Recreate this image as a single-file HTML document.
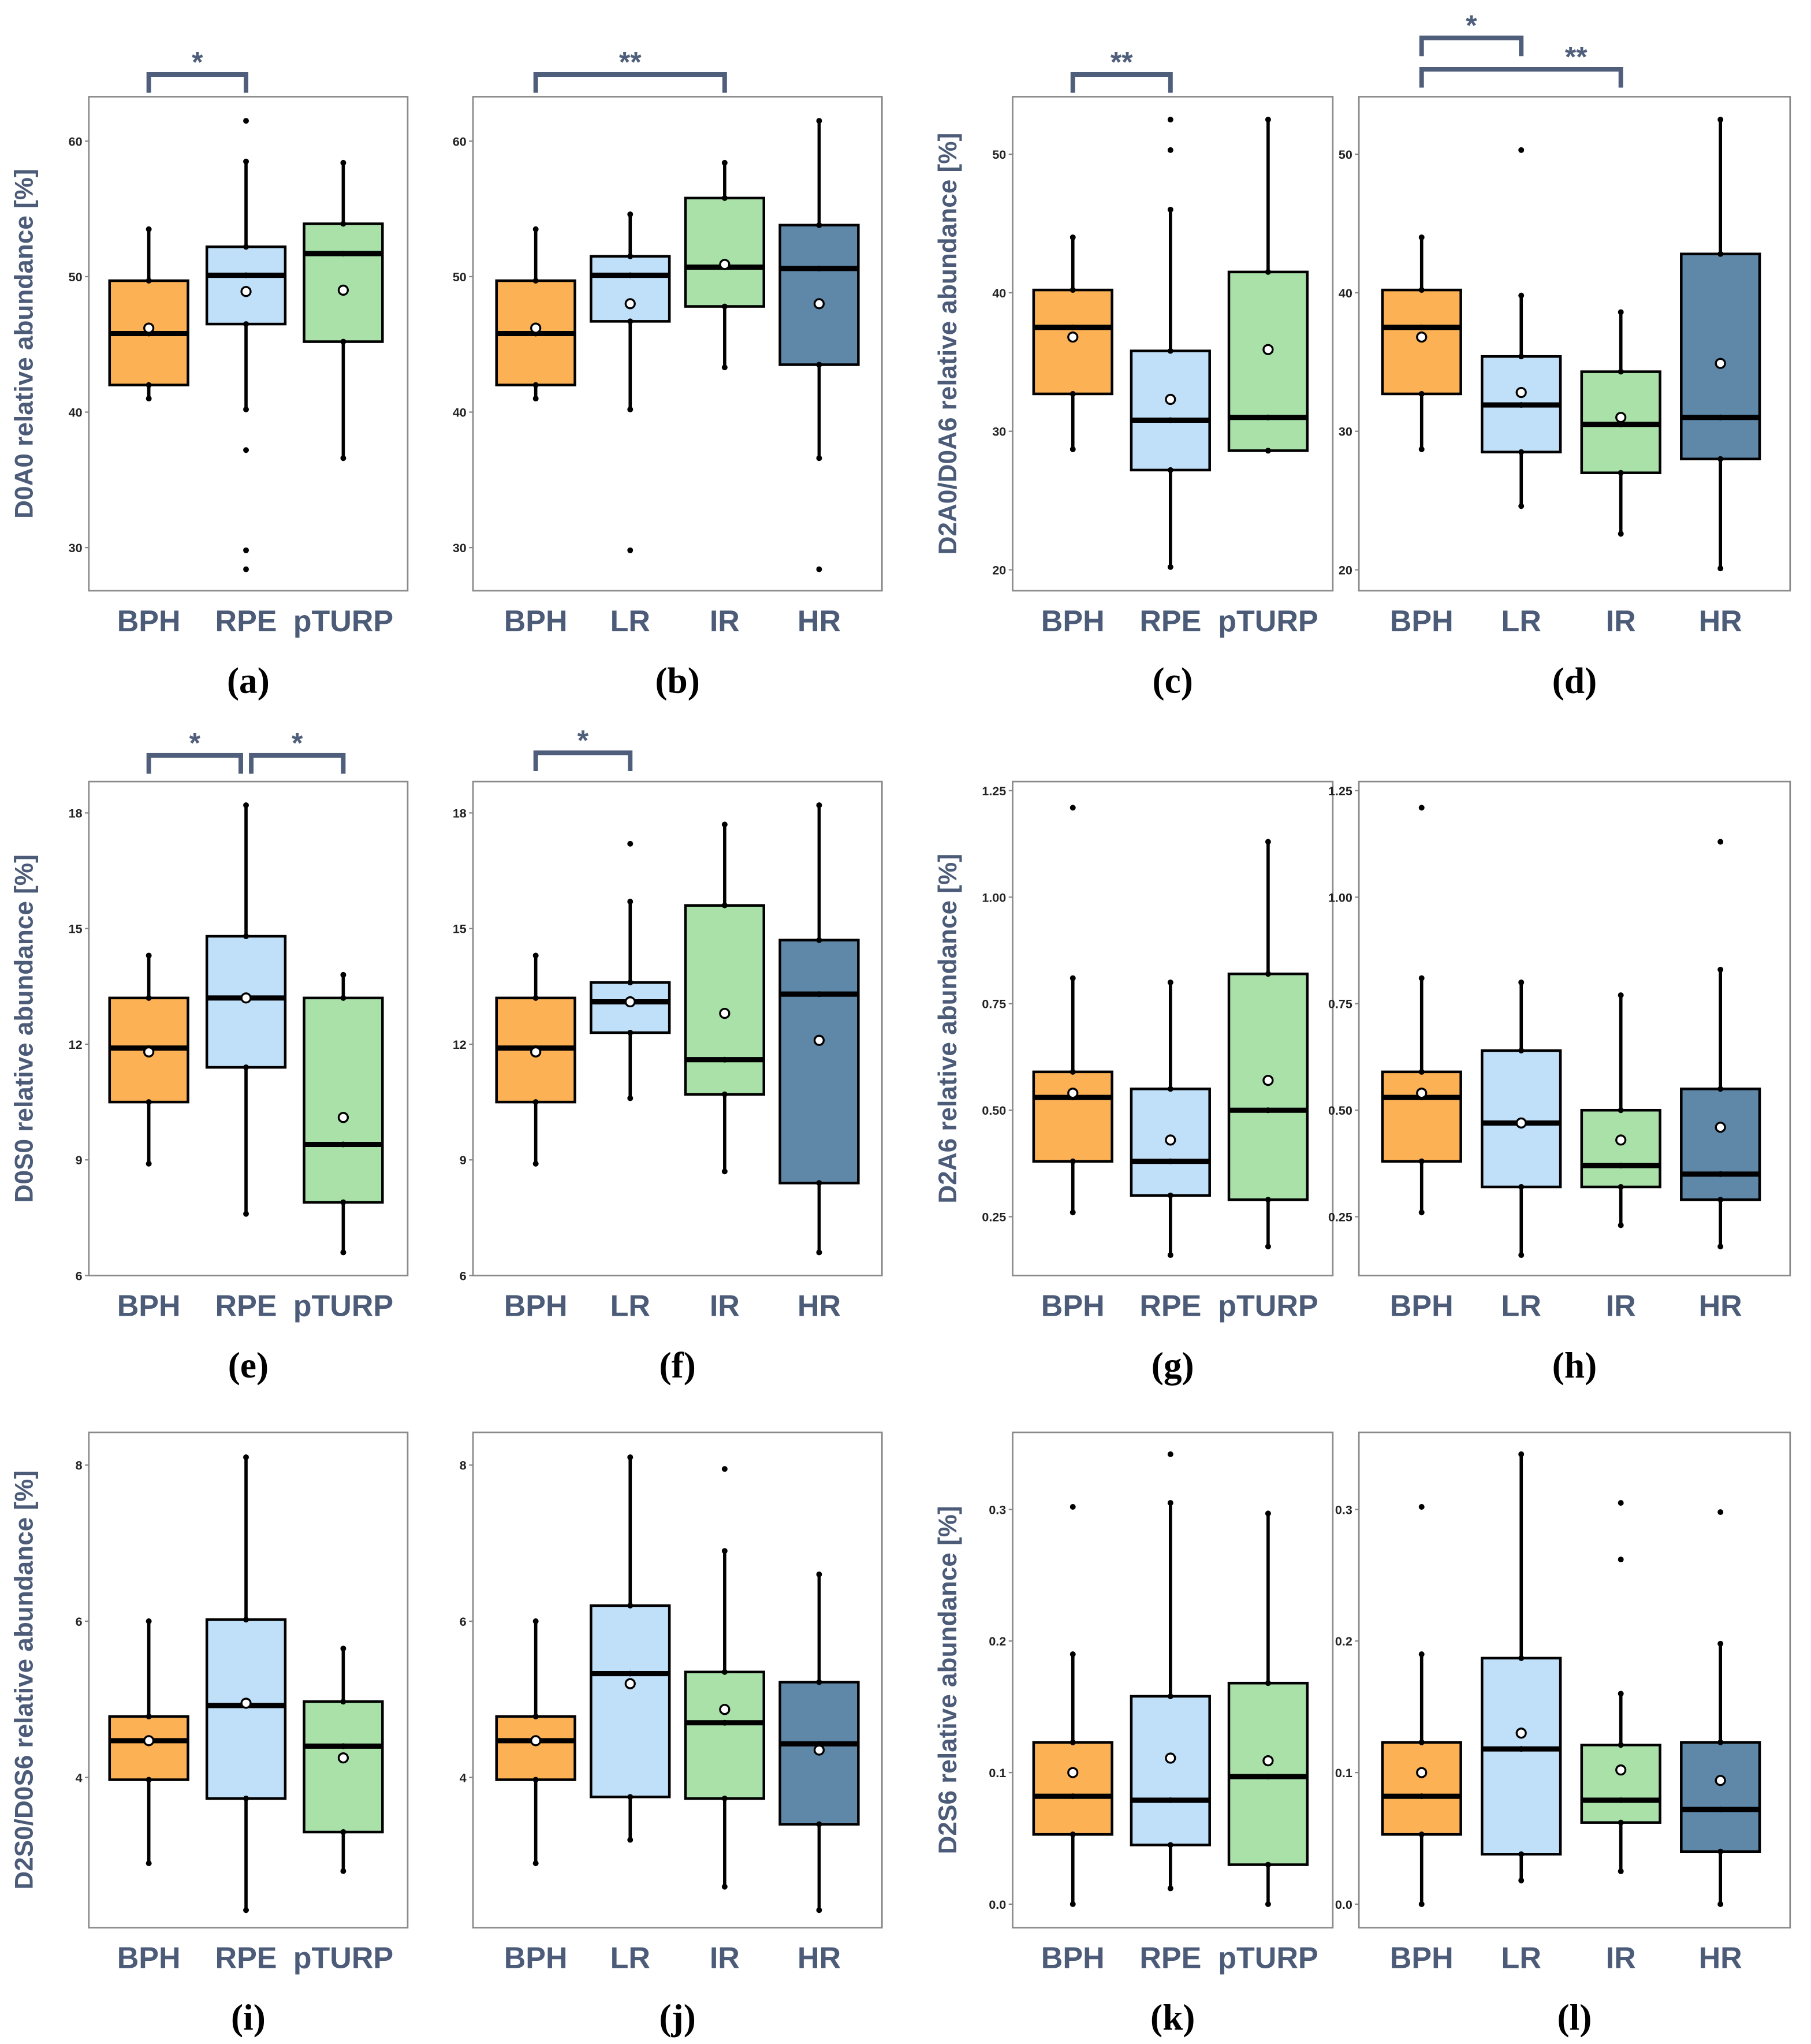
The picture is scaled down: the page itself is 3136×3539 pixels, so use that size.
<!DOCTYPE html>
<html><head><meta charset="utf-8"><style>
html,body{margin:0;padding:0;background:#fff;}
svg{display:block;}
</style></head><body>
<svg id="chart" width="3136" height="3539" viewBox="0 0 1386 1564" preserveAspectRatio="none" xmlns="http://www.w3.org/2000/svg"></svg>
<script>
// ---- data ----
const cats3 = ["BPH","RPE","pTURP"];
const cats4 = ["BPH","LR","IR","HR"];
// box rows: [lowWhisker, q1, median, q3, highWhisker]
const box_a = [[41,42,45.8,49.7,53.5],[40.2,46.5,50.1,52.2,58.5],[36.6,45.2,51.7,53.9,58.4]];
const mean_a = [46.2,48.9,49];
const out_a = [[],[61.5,37.2,29.8,28.4],[]];
const box_b = [[41,42,45.8,49.7,53.5],[40.2,46.7,50.1,51.5,54.6],[43.3,47.8,50.7,55.8,58.4],[36.6,43.5,50.6,53.8,61.5]];
const mean_b = [46.2,48,50.9,48];
const out_b = [[],[29.8],[],[28.4]];
const box_c = [[28.7,32.7,37.5,40.2,44],[20.2,27.2,30.8,35.8,46],[28.6,28.6,31,41.5,52.5]];
const mean_c = [36.8,32.3,35.9];
const out_c = [[],[50.3,52.5],[]];
const box_d = [[28.7,32.7,37.5,40.2,44],[24.6,28.5,31.9,35.4,39.8],[22.6,27,30.5,34.3,38.6],[20.1,28,31,42.8,52.5]];
const mean_d = [36.8,32.8,31,34.9];
const out_d = [[],[50.3],[],[]];
const box_e = [[8.9,10.5,11.9,13.2,14.3],[7.6,11.4,13.2,14.8,18.2],[6.6,7.9,9.4,13.2,13.8]];
const mean_e = [11.8,13.2,10.1];
const out_e = [[],[],[]];
const box_f = [[8.9,10.5,11.9,13.2,14.3],[10.6,12.3,13.1,13.6,15.7],[8.7,10.7,11.6,15.6,17.7],[6.6,8.4,13.3,14.7,18.2]];
const mean_f = [11.8,13.1,12.8,12.1];
const out_f = [[],[17.2],[],[]];
const box_g = [[0.26,0.38,0.53,0.59,0.81],[0.16,0.30,0.38,0.55,0.80],[0.18,0.29,0.50,0.82,1.13]];
const mean_g = [0.54,0.43,0.57];
const out_g = [[1.21],[],[]];
const box_h = [[0.26,0.38,0.53,0.59,0.81],[0.16,0.32,0.47,0.64,0.80],[0.23,0.32,0.37,0.50,0.77],[0.18,0.29,0.35,0.55,0.83]];
const mean_h = [0.54,0.47,0.43,0.46];
const out_h = [[1.21],[],[],[1.13]];
const box_i = [[2.9,3.97,4.47,4.78,6],[2.3,3.73,4.92,6.02,8.1],[2.8,3.3,4.4,4.97,5.65]];
const mean_i = [4.47,4.95,4.25];
const out_i = [[],[],[]];
const box_j = [[2.9,3.97,4.47,4.78,6],[3.2,3.75,5.33,6.2,8.1],[2.6,3.73,4.7,5.35,6.9],[2.3,3.4,4.43,5.22,6.6]];
const mean_j = [4.47,5.2,4.87,4.35];
const out_j = [[],[],[7.95],[]];
const box_k = [[0,0.053,0.082,0.123,0.19],[0.012,0.045,0.079,0.158,0.305],[0,0.03,0.097,0.168,0.297]];
const mean_k = [0.100,0.111,0.109];
const out_k = [[0.302],[0.342],[]];
const box_l = [[0,0.053,0.082,0.123,0.19],[0.018,0.038,0.118,0.187,0.342],[0.025,0.062,0.079,0.121,0.16],[0,0.04,0.072,0.123,0.198]];
const mean_l = [0.100,0.13,0.102,0.094];
const out_l = [[0.302],[],[0.262,0.305],[0.298]];
const ticks_ab = ["60","50","40","30"];
const ticks_cd = ["50","40","30","20"];
const ticks_ef = ["18","15","12","9","6"];
const ticks_gh = ["1.25","1.00","0.75","0.50","0.25"];
const ticks_ij = ["8","6","4"];
const ticks_kl = ["0.3","0.2","0.1","0.0"];

// ---- layout ----
const NS="http://www.w3.org/2000/svg";
const svg=document.getElementById('chart');
function mk(tag,attrs,parent){const e=document.createElementNS(NS,tag);for(const k in attrs)e.setAttribute(k,attrs[k]);(parent||svg).appendChild(e);return e;}
const fills4=["#FBB154","#BFE0F8","#A9E1A9","#5E87A8"];
const fills3=["#FBB154","#BFE0F8","#A9E1A9"];
const colX={a:[68,312],b:[362,675],c:[775,1020],d:[1040,1370]};
const rowY=[[74,452],[598,976],[1096,1475]];
const panels=[
 {id:"a",col:"a",row:0,cats:cats3,box:box_a,mean:mean_a,out:out_a,ticks:ticks_ab,ref:[60,108,30,419],title:"D0A0 relative abundance [%]"},
 {id:"b",col:"b",row:0,cats:cats4,box:box_b,mean:mean_b,out:out_b,ticks:ticks_ab,ref:[60,108,30,419]},
 {id:"c",col:"c",row:0,cats:cats3,box:box_c,mean:mean_c,out:out_c,ticks:ticks_cd,ref:[50,118,20,436],title:"D2A0/D0A6 relative abundance [%]"},
 {id:"d",col:"d",row:0,cats:cats4,box:box_d,mean:mean_d,out:out_d,ticks:ticks_cd,ref:[50,118,20,436]},
 {id:"e",col:"a",row:1,cats:cats3,box:box_e,mean:mean_e,out:out_e,ticks:ticks_ef,ref:[18,622,6,976],title:"D0S0 relative abundance [%]"},
 {id:"f",col:"b",row:1,cats:cats4,box:box_f,mean:mean_f,out:out_f,ticks:ticks_ef,ref:[18,622,6,976]},
 {id:"g",col:"c",row:1,cats:cats3,box:box_g,mean:mean_g,out:out_g,ticks:ticks_gh,ref:[1.25,605,0.25,931],title:"D2A6 relative abundance [%]"},
 {id:"h",col:"d",row:1,cats:cats4,box:box_h,mean:mean_h,out:out_h,ticks:ticks_gh,ref:[1.25,605,0.25,931]},
 {id:"i",col:"a",row:2,cats:cats3,box:box_i,mean:mean_i,out:out_i,ticks:ticks_ij,ref:[8,1121,4,1360],title:"D2S0/D0S6 relative abundance [%]"},
 {id:"j",col:"b",row:2,cats:cats4,box:box_j,mean:mean_j,out:out_j,ticks:ticks_ij,ref:[8,1121,4,1360]},
 {id:"k",col:"c",row:2,cats:cats3,box:box_k,mean:mean_k,out:out_k,ticks:ticks_kl,ref:[0.3,1155,0,1457],title:"D2S6 relative abundance [%]"},
 {id:"l",col:"d",row:2,cats:cats4,box:box_l,mean:mean_l,out:out_l,ticks:ticks_kl,ref:[0.3,1155,0,1457]}
];
const brackets=[
 {p:"a",g1:0,g2:1,y:57,label:"*",d1:0,d2:0,lx:0},
 {p:"b",g1:0,g2:2,y:57,label:"**",d1:0,d2:0,lx:0},
 {p:"c",g1:0,g2:1,y:57,label:"**",d1:0,d2:0,lx:0},
 {p:"d",g1:0,g2:1,y:29,label:"*",d1:0,d2:0,lx:0},
 {p:"d",g1:0,g2:2,y:53,label:"**",d1:0,d2:0,lx:42},
 {p:"e",g1:0,g2:1,y:578,label:"*",d1:0,d2:-4,lx:0},
 {p:"e",g1:1,g2:2,y:578,label:"*",d1:4,d2:0,lx:0},
 {p:"f",g1:0,g2:1,y:576,label:"*",d1:0,d2:0,lx:0}
];
const TXT="#4B5B78";
const geo={};
panels.forEach(P=>{
  const [x0,x1]=colX[P.col]; const [y0,y1]=rowY[P.row];
  const [v0,py0,v1,py1]=P.ref;
  const yS=v=>py0+(v-v0)*(py1-py0)/(v1-v0);
  const n=P.cats.length;
  const w=x1-x0;
  const xS=i=> n===3 ? x0+w*0.188+i*w*0.305 : x0+48+i*w*0.231;
  geo[P.id]={xS,yS};
  const g=mk('g',{});
  
  
  const fr=mk('rect',{x:x0,y:y0,width:w,height:y1-y0,fill:'none',stroke:'#8a8a8a','stroke-width':1.2},g);
  
  
  P.ticks.forEach(t=>{
    const ty=yS(parseFloat(t));
    const tl=mk('text',{x:x0-5,y:ty+3.5,'text-anchor':'end','font-family':'Liberation Sans, sans-serif','font-size':9.5,'font-weight':'bold',fill:'#222'},g);
    tl.textContent=t;
    
    
    mk('line',{x1:x0-3,x2:x0,y1:ty,y2:ty,stroke:'#888','stroke-width':1},g);
  });
  const fills=n===3?fills3:fills4;
  P.cats.forEach((c,i)=>{
    const cx=xS(i); const b=P.box[i]; const hw=30;
    const wh=mk('line',{x1:cx,x2:cx,y1:yS(b[0]),y2:yS(b[4]),stroke:'#000','stroke-width':2.5},g);
    
    
    const r=mk('rect',{x:cx-hw,y:yS(b[3]),width:2*hw,height:yS(b[1])-yS(b[3]),fill:fills[i],stroke:'#000','stroke-width':2},g);
    
    
    const md=mk('line',{x1:cx-hw,x2:cx+hw,y1:yS(b[2]),y2:yS(b[2]),stroke:'#000','stroke-width':4},g);
    
    
    [b[0],b[1],b[2],b[3],b[4]].forEach(v=>{
      const d=mk('circle',{cx:cx,cy:yS(v),r:2.2,fill:'#000'},g);
      
      
    });
    P.out[i].forEach(v=>{
      const o=mk('circle',{cx:cx,cy:yS(v),r:2.2,fill:'#000'},g);
      
      
    });
    const m=mk('circle',{cx:cx,cy:yS(P.mean[i]),r:3.5,fill:'#fff',stroke:'#000','stroke-width':1.5},g);
    
    
    const cl=mk('text',{x:cx,y:y1+31,'text-anchor':'middle','font-family':'Liberation Sans, sans-serif','font-size':23,'font-weight':'bold',fill:TXT},g);
    cl.textContent=c;
    
    
  });
  const pl=mk('text',{x:(x0+x1)/2,y:y1+78,'text-anchor':'middle','font-family':'Liberation Serif, serif','font-size':28,'font-weight':'bold',fill:'#000'},g);
  pl.textContent='('+P.id+')';
  
  
  if(P.title){
    const tx=x0-43, ty=(y0+y1)/2;
    const yt=mk('text',{x:tx,y:ty,'text-anchor':'middle','font-family':'Liberation Sans, sans-serif','font-size':19.5,'font-weight':'bold',fill:TXT,transform:`rotate(-90 ${tx} ${ty})`},g);
    yt.textContent=P.title;
    
    
  }
});
brackets.forEach(B=>{
  const G=geo[B.p]; const xa=G.xS(B.g1)+B.d1, xb=G.xS(B.g2)+B.d2;
  const bot=B.y+14;
  const p=mk('path',{d:`M${xa},${bot} L${xa},${B.y} L${xb},${B.y} L${xb},${bot}`,fill:'none',stroke:'#4F5F7B','stroke-width':3.5});
  
  
  const t=mk('text',{x:(xa+xb)/2+B.lx,y:B.y-2,'text-anchor':'middle','font-family':'Liberation Sans, sans-serif','font-size':22,'font-weight':'bold',fill:'#4F5F7B'});
  t.textContent=B.label;
  
  
});
</script>
</body></html>
